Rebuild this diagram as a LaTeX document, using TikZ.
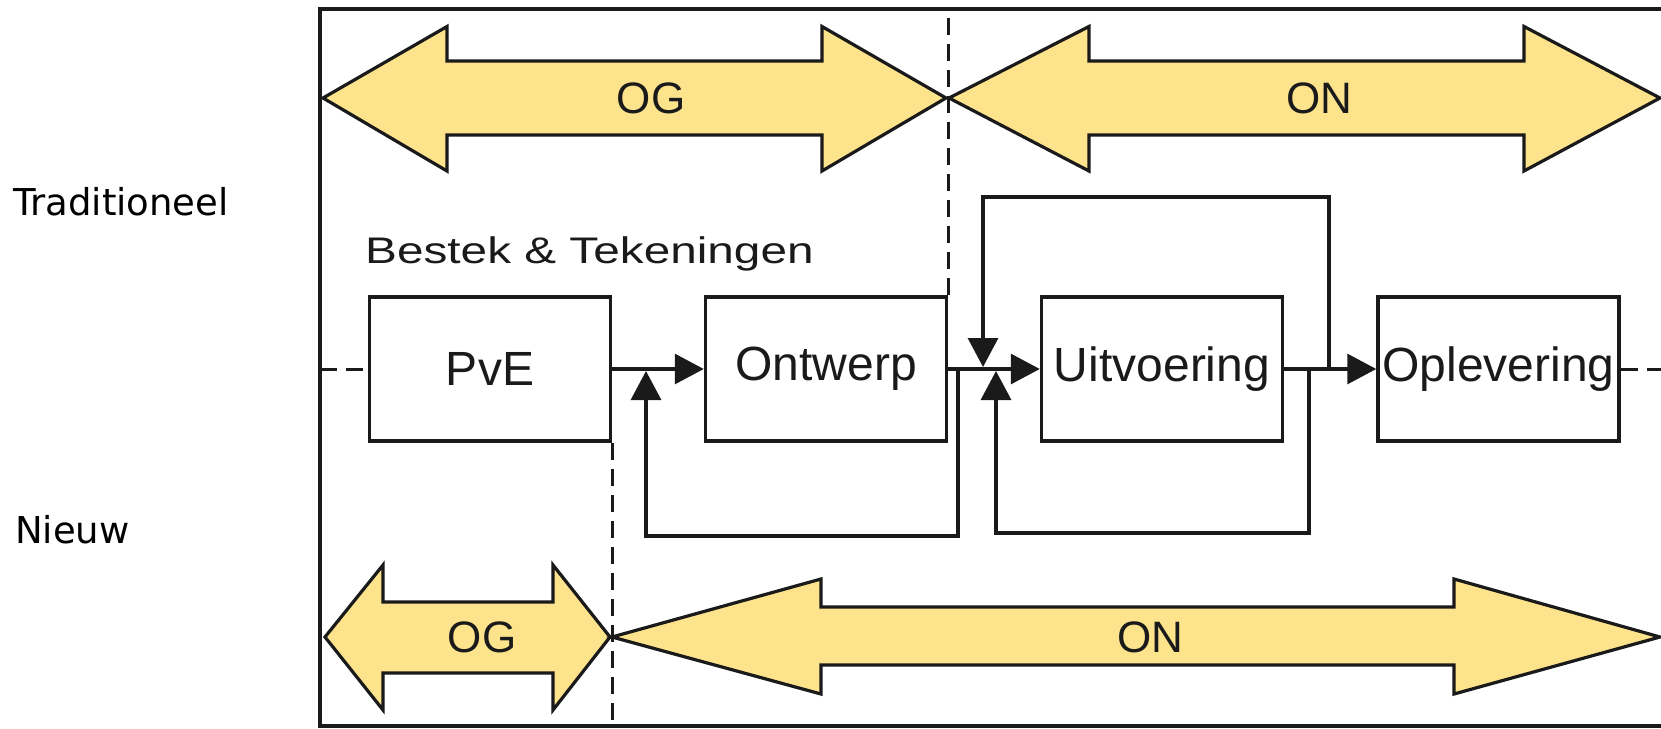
\documentclass[tikz,border=0pt]{standalone}
\usepackage{fontspec}
\setmainfont{Liberation Sans}
\newfontfamily\verd{DejaVu Sans}
\usetikzlibrary{arrows.meta}
\definecolor{arrowfill}{RGB}{252,227,140}
\definecolor{ink}{RGB}{26,26,26}
\begin{document}
\begin{tikzpicture}[x=1pt,y=-1pt,
  box/.style={draw=ink,line width=3.5pt,minimum width=241pt,minimum height=144pt,inner sep=0pt,
    font=\fontsize{48}{52}\selectfont,text=ink},
  flow/.style={draw=ink,line width=3.2pt},
  tip/.style={-{Triangle[length=29pt,width=30pt]}},
  bigarrow/.style={fill=arrowfill,draw=ink,line width=3.2pt,line join=miter},
  dashline/.style={draw=ink,line width=3pt,dash pattern=on 17pt off 9pt},
  lbl/.style={font=\fontsize{44}{48}\selectfont,text=ink,inner sep=0pt},
  side/.style={font=\verd\fontsize{37}{40}\selectfont,anchor=base west,inner sep=0pt}
]
\useasboundingbox (0,0) rectangle (1661,728);
\fill[white] (0,0) rectangle (1661,728);

% side labels
\node[side] (trad) at (13,215) {Traditioneel};
\node[side] (nieuw) at (15,543) {Nieuw};

% frame
\coordinate (ftr) at (1661,9);
\coordinate (ftl) at (320,9);
\coordinate (fbl) at (320,726);
\coordinate (fbr) at (1661,726);
\draw[ink,line width=3.2pt] (ftr) -- (ftl) -- (fbl) -- (fbr);

% boxes
\node[box] (pve) at (490,369) {PvE};
\node[box] (ontwerp) at (826,369) {Ontwerp};
\node[box] (uitv) at (1162,369) {Uitvoering};
\node[box] (oplev) at (1498.5,369) {Oplevering};

\node[anchor=base west,inner sep=0pt,font=\fontsize{37}{40}\selectfont,text=ink] (bestek) at (365,263)
  {\scalebox{1.29}[1]{Bestek \& Tekeningen}};

% dashed phase lines
\draw[dashline] (ontwerp.north east) -- (ontwerp.north east |- ftl);
\draw[dashline] (pve.south east) -- (pve.south east |- fbl);
\draw[dashline] (ftl |- pve.west) -- (pve.west);
\coordinate (rend) at (1661,369);
\draw[dashline] (oplev.east) -- (rend);

% big double arrows
\draw[bigarrow] (323,98) -- (447,26.5) -- (447,61) -- (822,61) -- (822,26.5) -- (946,98)
  -- (822,171) -- (822,135) -- (447,135) -- (447,171) -- cycle;
\draw[bigarrow] (949,98) -- (1089,26.5) -- (1089,61) -- (1524,61) -- (1524,26.5) -- (1660,98)
  -- (1524,171) -- (1524,135) -- (1089,135) -- (1089,171) -- cycle;
\draw[bigarrow] (325,637) -- (383,565) -- (383,602) -- (553,602) -- (553,565) -- (610,637)
  -- (553,710) -- (553,673) -- (383,673) -- (383,710) -- cycle;
\draw[bigarrow] (612,637) -- (821,579) -- (821,607) -- (1454,607) -- (1454,579) -- (1660,637)
  -- (1454,694) -- (1454,665) -- (821,665) -- (821,694) -- cycle;

\node[lbl] (og1) at (651,98) {OG};
\node[lbl] (on1) at (1319,98) {ON};
\node[lbl] (og2) at (482,637) {OG};
\node[lbl] (on2) at (1150,637) {ON};

% forward flow
\draw[flow,tip] (pve.east) -- (ontwerp.west);
\draw[flow,tip] (ontwerp.east) -- (uitv.west);
\draw[flow,tip] (uitv.east) -- (oplev.west);

% feedback loops
\coordinate (j1) at (958,369);
\coordinate (t1) at (646,371);
\draw[flow,tip] (j1) -- (958,536) -- (646,536) -- (t1);

\coordinate (j2) at (1309,369);
\coordinate (t2) at (996,371);
\draw[flow,tip] (j2) -- (1309,533) -- (996,533) -- (t2);

\coordinate (j3) at (1329,369);
\coordinate (t3) at (983,367);
\draw[flow,tip] (j3) -- (1329,197) -- (983,197) -- (t3);
\end{tikzpicture}
\end{document}
